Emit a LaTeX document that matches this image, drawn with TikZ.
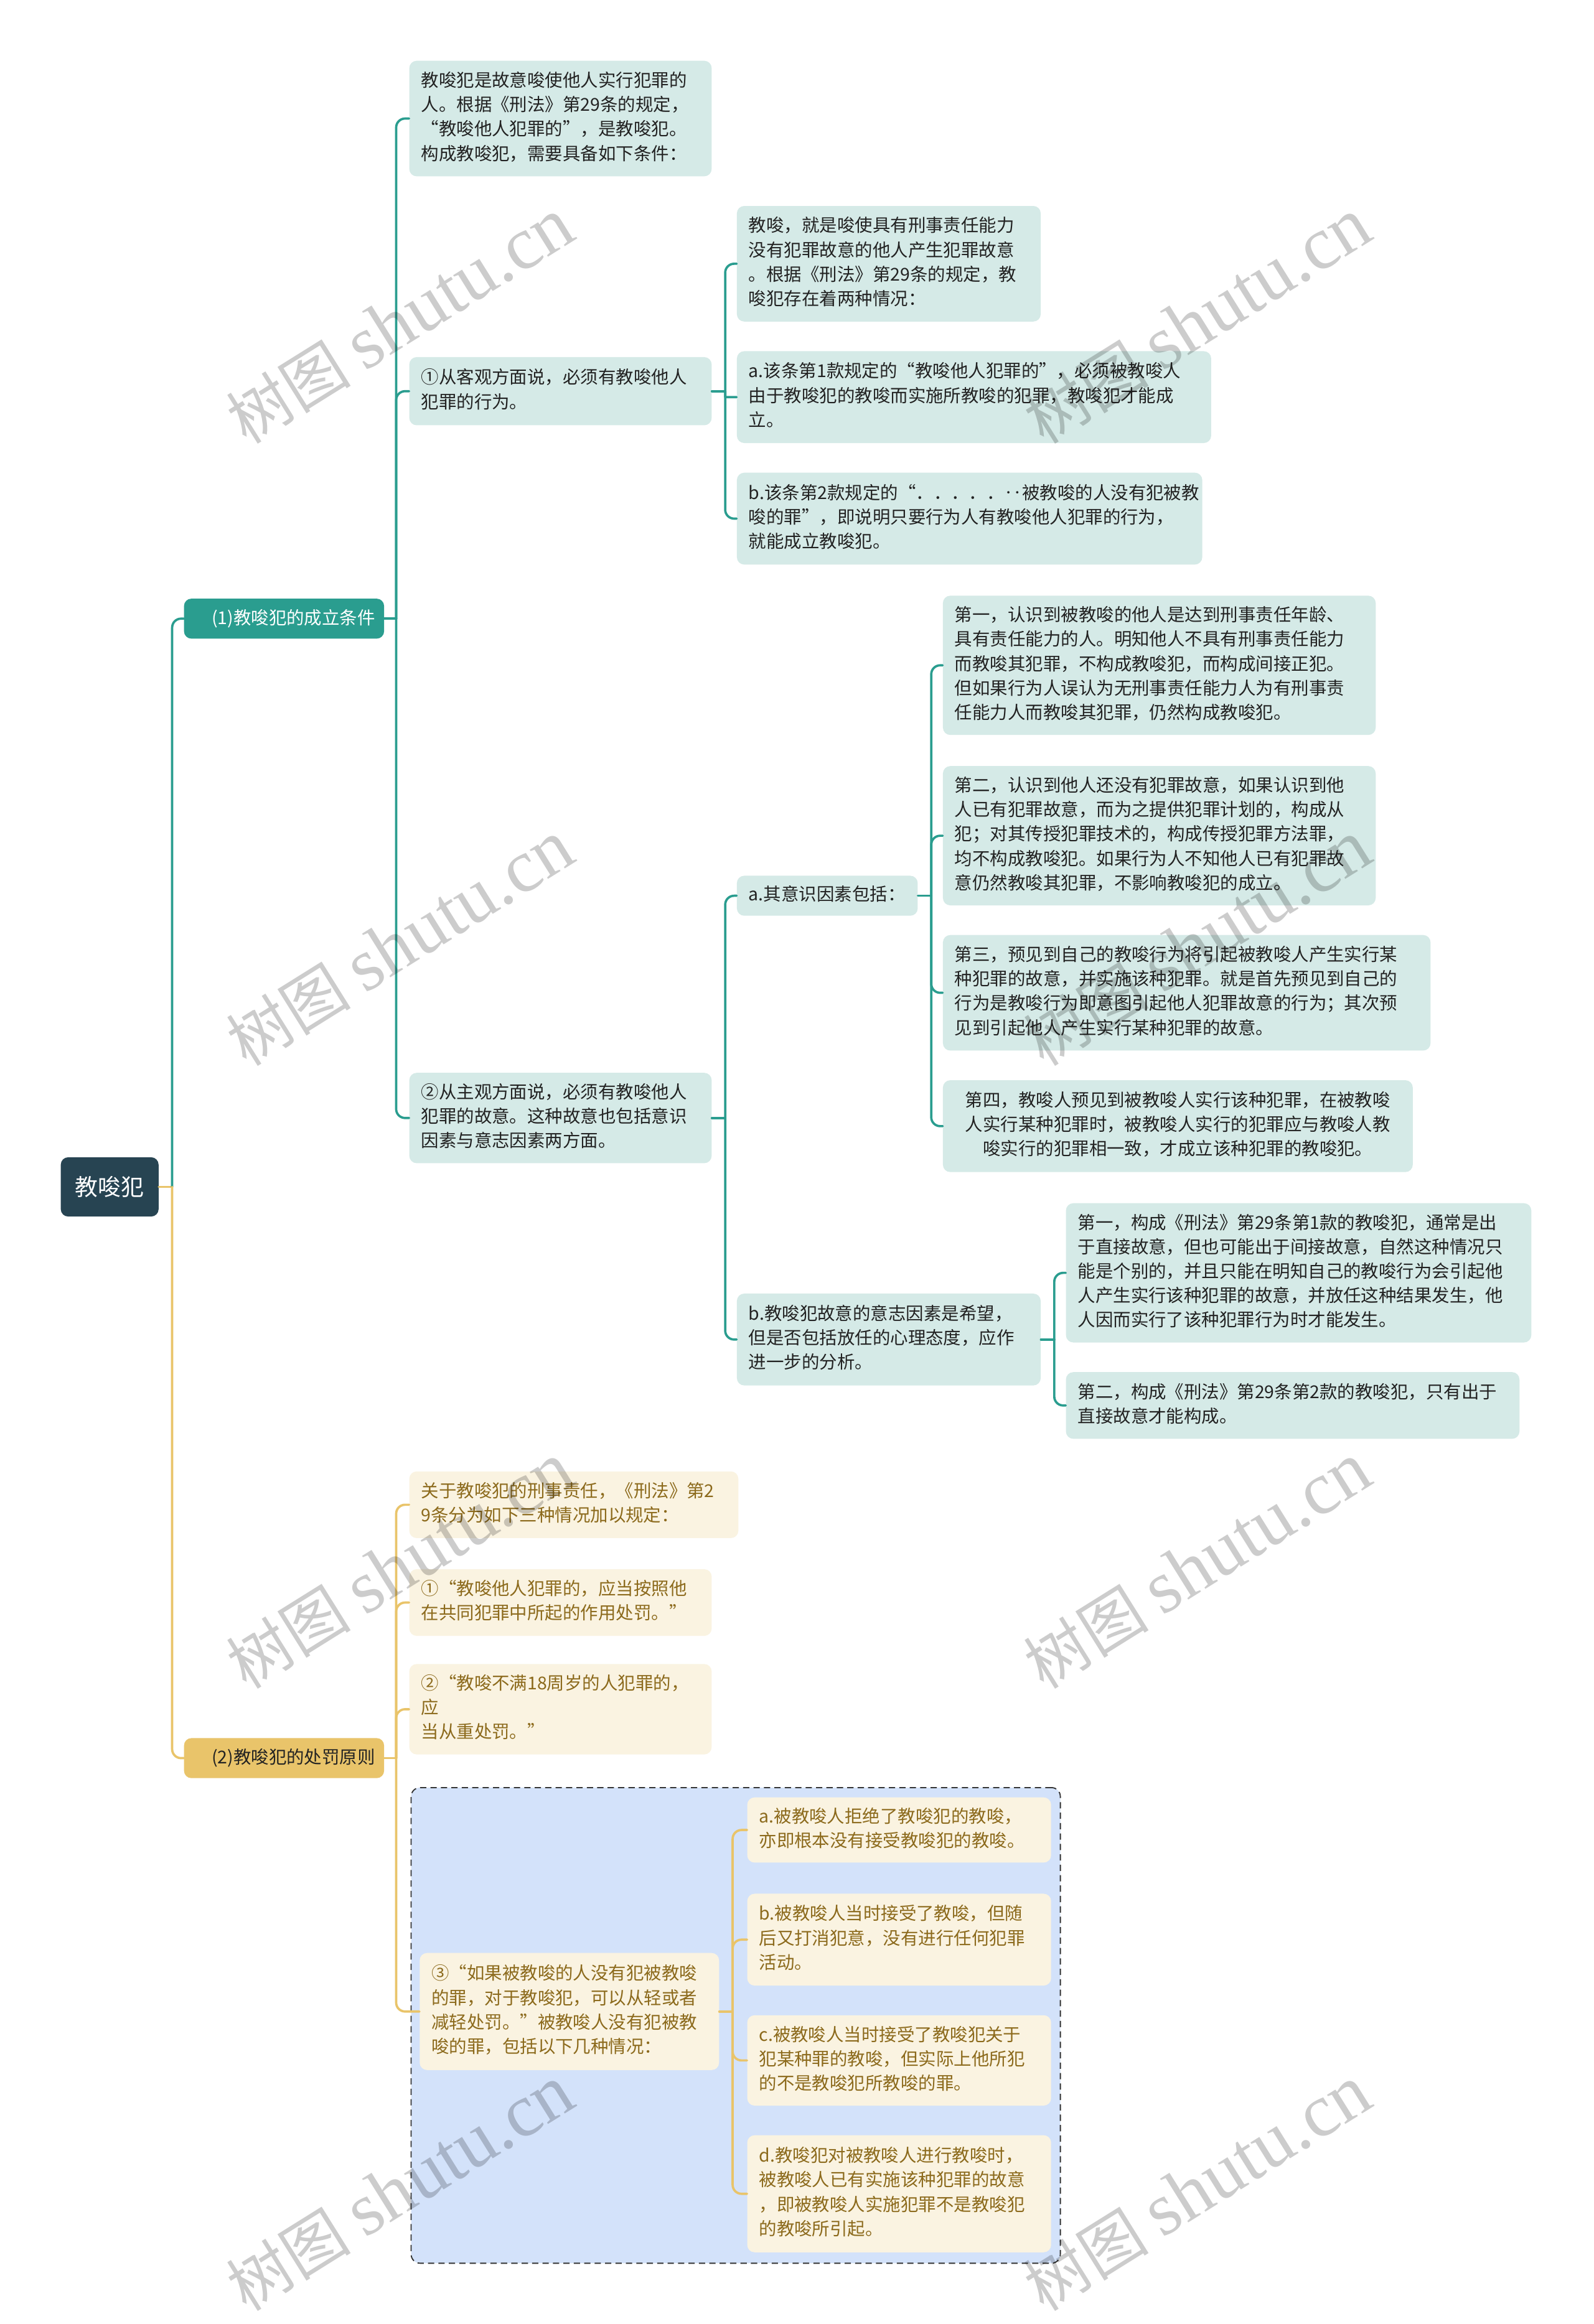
\documentclass[tikz,border=0pt]{standalone}
\usepackage{fontspec}
\setmainfont{Noto Sans CJK SC}
\newfontfamily\wmlat{Liberation Serif}
\usetikzlibrary{calc}
\definecolor{rootc}{HTML}{274452}
\definecolor{tealline}{HTML}{2A9D8F}
\definecolor{tealbg}{HTML}{D5EAE7}
\definecolor{txtdark}{HTML}{222222}
\definecolor{goldline}{HTML}{E9C46A}
\definecolor{goldbg}{HTML}{FAF3E1}
\definecolor{goldtxt}{HTML}{8C6A1C}
\definecolor{grpbg}{HTML}{D3E2FA}
\definecolor{grpdraw}{HTML}{333333}
\newcommand\lns[1]{\begin{tabular}{@{}l@{}}#1\end{tabular}}
\newcommand\lnc[1]{\begin{tabular}{@{}c@{}}#1\end{tabular}}
\newcommand\mmbranch[4]{%
  \draw[#1] (#2.east) -- ++(#3,0) coordinate (#2j);
  \foreach \c in {#4} {\draw[#1] (#2j) |- (\c.west);}%
}
\tikzset{
  base/.style={rounded corners=0.25cm, inner xsep=0.4cm, inner ysep=0.1cm,
    font=\fontsize{17}{23.4}\selectfont, anchor=west},
  tbox/.style={base, fill=tealbg, text=txtdark, align=left},
  gbox/.style={base, fill=goldbg, text=goldtxt, align=left},
  tline/.style={draw=tealline, line width=2.2pt, rounded corners=0.3cm, line cap=round},
  gline/.style={draw=goldline, line width=2.2pt, rounded corners=0.3cm, line cap=round},
  rootbox/.style={fill=rootc, text=white, rounded corners=0.25cm, inner sep=0pt,
    font=\fontsize{22}{26}\selectfont},
  lvlone/.style={base, inner xsep=0.3cm, align=right, font=\fontsize{17}{20}\selectfont},
  grpbox/.style={fill=grpbg, draw=grpdraw, dash pattern=on 6pt off 4pt, line width=1.1pt,
    rounded corners=0.3cm, inner sep=0pt},
  wm/.style={rotate=32, text=black, text opacity=0.2, inner sep=0pt,
    font=\fontsize{60}{60}\selectfont},
}
\begin{document}
\begin{tikzpicture}[x=0.05cm,y=-0.05cm]
\fill[white] (0,0) rectangle (1075,1568.4);
\useasboundingbox (0,0) rectangle (1075,1568.4);

% group background
\node[grpbox, anchor=north west, minimum width=21.9cm, minimum height=16.05cm] (grp) at (277,1206) {};

% root and level one
\node[rootbox, minimum width=3.3cm, minimum height=2cm] (root) at (74,801) {教唆犯};
\node[lvlone, fill=tealline, text=white, minimum width=6.75cm, minimum height=1.35cm, text width=6.15cm] (a1) at (124,417.5) {(1)教唆犯的成立条件};
\node[lvlone, fill=goldline, text=txtdark, minimum width=6.75cm, minimum height=1.35cm, text width=6.15cm] (a2) at (124,1186.5) {(2)教唆犯的处罚原则};

% teal branch
\node[tbox, minimum width=10.2cm, minimum height=3.9cm, text width=9.4cm] (t1) at (276,80) {\lns{教唆犯是故意唆使他人实行犯罪的\\人。根据《刑法》第29条的规定，\\“教唆他人犯罪的”，是教唆犯。\\构成教唆犯，需要具备如下条件：}};
\node[tbox, minimum width=10.2cm, minimum height=2.3cm, text width=9.4cm] (t2) at (276,264) {\lns{①从客观方面说，必须有教唆他人\\犯罪的行为。}};
\node[tbox, minimum width=10.2cm, minimum height=3.05cm, text width=9.4cm] (t3) at (276,754.5) {\lns{②从主观方面说，必须有教唆他人\\犯罪的故意。这种故意也包括意识\\因素与意志因素两方面。}};

\node[tbox, minimum width=10.25cm, minimum height=3.9cm, text width=9.45cm] (t2a) at (497,178) {\lns{教唆，就是唆使具有刑事责任能力\\没有犯罪故意的他人产生犯罪故意\\。根据《刑法》第29条的规定，教\\唆犯存在着两种情况：}};
\node[tbox, minimum width=16cm, minimum height=3.1cm, text width=15.2cm] (t2b) at (497,268) {\lns{a.该条第1款规定的“教唆他人犯罪的”，必须被教唆人\\由于教唆犯的教唆而实施所教唆的犯罪，教唆犯才能成\\立。}};
\node[tbox, minimum width=15.7cm, minimum height=3.1cm, text width=14.9cm] (t2c) at (497,350) {\lns{b.该条第2款规定的“．．．．．‥被教唆的人没有犯被教\\唆的罪”，即说明只要行为人有教唆他人犯罪的行为，\\就能成立教唆犯。}};

\node[tbox, minimum width=6.1cm, minimum height=1.35cm, text width=5.3cm] (t3a) at (497,604.5) {\lns{a.其意识因素包括：}};
\node[tbox, minimum width=10.25cm, minimum height=3.1cm, text width=9.45cm] (t3b) at (497,904) {\lns{b.教唆犯故意的意志因素是希望，\\但是否包括放任的心理态度，应作\\进一步的分析。}};

\node[tbox, minimum width=14.6cm, minimum height=4.7cm, text width=13.8cm] (s1) at (636,449) {\lns{第一，认识到被教唆的他人是达到刑事责任年龄、\\具有责任能力的人。明知他人不具有刑事责任能力\\而教唆其犯罪，不构成教唆犯，而构成间接正犯。\\但如果行为人误认为无刑事责任能力人为有刑事责\\任能力人而教唆其犯罪，仍然构成教唆犯。}};
\node[tbox, minimum width=14.6cm, minimum height=4.7cm, text width=13.8cm] (s2) at (636,564) {\lns{第二，认识到他人还没有犯罪故意，如果认识到他\\人已有犯罪故意，而为之提供犯罪计划的，构成从\\犯；对其传授犯罪技术的，构成传授犯罪方法罪，\\均不构成教唆犯。如果行为人不知他人已有犯罪故\\意仍然教唆其犯罪，不影响教唆犯的成立。}};
\node[tbox, minimum width=16.45cm, minimum height=3.9cm, text width=15.65cm] (s3) at (636,670) {\lns{第三，预见到自己的教唆行为将引起被教唆人产生实行某\\种犯罪的故意，并实施该种犯罪。就是首先预见到自己的\\行为是教唆行为即意图引起他人犯罪故意的行为；其次预\\见到引起他人产生实行某种犯罪的故意。}};
\node[tbox, align=center, minimum width=15.85cm, minimum height=3.1cm, text width=15.05cm] (s4) at (636,760) {\lnc{第四，教唆人预见到被教唆人实行该种犯罪，在被教唆\\人实行某种犯罪时，被教唆人实行的犯罪应与教唆人教\\唆实行的犯罪相一致，才成立该种犯罪的教唆犯。}};

\node[tbox, minimum width=15.7cm, minimum height=4.7cm, text width=14.9cm] (u1) at (719,859) {\lns{第一，构成《刑法》第29条第1款的教唆犯，通常是出\\于直接故意，但也可能出于间接故意，自然这种情况只\\能是个别的，并且只能在明知自己的教唆行为会引起他\\人产生实行该种犯罪的故意，并放任这种结果发生，他\\人因而实行了该种犯罪行为时才能发生。}};
\node[tbox, minimum width=15.3cm, minimum height=2.25cm, text width=14.5cm] (u2) at (719,948.5) {\lns{第二，构成《刑法》第29条第2款的教唆犯，只有出于\\直接故意才能构成。}};

% gold branch
\node[gbox, minimum width=11.1cm, minimum height=2.25cm, text width=10.3cm] (g1) at (276,1015.5) {\lns{关于教唆犯的刑事责任，《刑法》第2\\9条分为如下三种情况加以规定：}};
\node[gbox, minimum width=10.2cm, minimum height=2.25cm, text width=9.4cm] (g2) at (276,1081.5) {\lns{①“教唆他人犯罪的，应当按照他\\在共同犯罪中所起的作用处罚。”}};
\node[gbox, minimum width=10.2cm, minimum height=3.05cm, text width=9.4cm] (g3) at (276,1153.5) {\lns{②“教唆不满18周岁的人犯罪的，\\应\\当从重处罚。”}};
\node[gbox, minimum width=10.1cm, minimum height=3.95cm, text width=9.3cm] (g4) at (283,1357.5) {\lns{③“如果被教唆的人没有犯被教唆\\的罪，对于教唆犯，可以从轻或者\\减轻处罚。”被教唆人没有犯被教\\唆的罪，包括以下几种情况：}};

\node[gbox, minimum width=10.25cm, minimum height=2.2cm, text width=9.45cm] (h1) at (504,1235) {\lns{a.被教唆人拒绝了教唆犯的教唆，\\亦即根本没有接受教唆犯的教唆。}};
\node[gbox, minimum width=10.25cm, minimum height=3.1cm, text width=9.45cm] (h2) at (504,1309) {\lns{b.被教唆人当时接受了教唆，但随\\后又打消犯意，没有进行任何犯罪\\活动。}};
\node[gbox, minimum width=10.25cm, minimum height=3.05cm, text width=9.45cm] (h3) at (504,1390.5) {\lns{c.被教唆人当时接受了教唆犯关于\\犯某种罪的教唆，但实际上他所犯\\的不是教唆犯所教唆的罪。}};
\node[gbox, minimum width=10.25cm, minimum height=3.95cm, text width=9.45cm] (h4) at (504,1480.5) {\lns{d.教唆犯对被教唆人进行教唆时，\\被教唆人已有实施该种犯罪的故意\\，即被教唆人实施犯罪不是教唆犯\\的教唆所引起。}};

% connectors
\draw[gline] (root.east) -- ++(9,0) coordinate (rootj);
\draw[tline] (rootj) |- (a1.west);
\draw[gline] (rootj) |- (a2.west);
\mmbranch{tline}{a1}{8}{t1,t2,t3}
\mmbranch{tline}{t2}{9}{t2a,t2c}
\draw[tline, rounded corners=0.5pt] (t2j) |- (t2b.west);
\mmbranch{tline}{t3}{9}{t3a,t3b}
\mmbranch{tline}{t3a}{9}{s1,s2,s3,s4}
\mmbranch{tline}{t3b}{9}{u1,u2}
\mmbranch{gline}{a2}{8}{g1,g2,g3,g4}
\mmbranch{gline}{g4}{9}{h1,h2,h3,h4}

% watermarks
\foreach \wx/\wy/\wn in {270/217/1, 808/217/2, 270/637/3, 808/637/4, 270/1057/5, 808/1057/6, 270/1477/7, 808/1477/8}
  \node[wm] (wm\wn) at (\wx,\wy) {树图 {\wmlat\fontsize{72}{72}\selectfont shutu.cn}};
\end{tikzpicture}
\end{document}
